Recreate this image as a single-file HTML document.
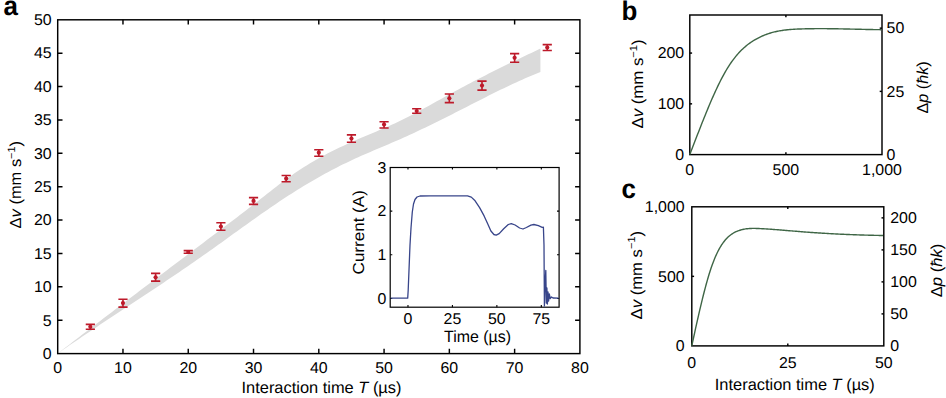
<!DOCTYPE html>
<html><head><meta charset="utf-8"><style>
html,body{margin:0;padding:0;background:#fff;}
svg{display:block;}
text{fill:#000;text-rendering:geometricPrecision;}
</style></head><body>
<svg width="946" height="398" viewBox="0 0 946 398" font-family='"Liberation Sans", sans-serif'>
<rect width="946" height="398" fill="#fff"/>
<path d="M57.7,353.5 L60.74,351.16 L63.77,348.83 L66.81,346.5 L69.84,344.17 L72.88,341.84 L75.92,339.51 L78.95,337.18 L81.99,334.85 L85.02,332.53 L88.06,330.2 L91.09,327.88 L94.13,325.56 L97.17,323.24 L100.2,320.92 L103.24,318.6 L106.27,316.28 L109.31,313.97 L112.35,311.65 L115.38,309.34 L118.42,307.03 L121.45,304.71 L124.49,302.4 L127.52,300.09 L130.56,297.79 L133.6,295.48 L136.63,293.17 L139.67,290.86 L142.7,288.56 L145.74,286.26 L148.78,283.95 L151.81,281.65 L154.85,279.35 L157.88,277.05 L160.92,274.75 L163.95,272.45 L166.99,270.15 L170.03,267.85 L173.06,265.56 L176.1,263.26 L179.13,260.97 L182.17,258.67 L185.21,256.38 L188.24,254.09 L191.28,251.8 L194.31,249.51 L197.35,247.22 L200.38,244.93 L203.42,242.64 L206.46,240.35 L209.49,238.06 L212.53,235.77 L215.56,233.48 L218.6,231.19 L221.64,228.9 L224.67,226.6 L227.71,224.3 L230.74,222 L233.78,219.69 L236.82,217.38 L239.85,215.06 L242.89,212.73 L245.92,210.39 L248.96,208.05 L251.99,205.69 L255.03,203.33 L258.07,200.96 L261.1,198.58 L264.14,196.18 L267.17,193.79 L270.21,191.4 L273.25,189.02 L276.28,186.66 L279.32,184.33 L282.35,182.03 L285.39,179.77 L288.42,177.56 L291.46,175.39 L294.5,173.29 L297.53,171.24 L300.57,169.24 L303.6,167.29 L306.64,165.4 L309.68,163.55 L312.71,161.74 L315.75,159.98 L318.78,158.27 L321.82,156.59 L324.85,154.96 L327.89,153.36 L330.93,151.8 L333.96,150.28 L337,148.78 L340.03,147.32 L343.07,145.89 L346.11,144.49 L349.14,143.11 L352.18,141.76 L355.21,140.43 L358.25,139.12 L361.28,137.82 L364.32,136.53 L367.36,135.25 L370.39,133.97 L373.43,132.69 L376.46,131.41 L379.5,130.12 L382.54,128.82 L385.57,127.5 L388.61,126.16 L391.64,124.8 L394.68,123.41 L397.72,121.99 L400.75,120.53 L403.79,119.04 L406.82,117.51 L409.86,115.96 L412.89,114.38 L415.93,112.77 L418.97,111.14 L422,109.49 L425.04,107.83 L428.07,106.15 L431.11,104.47 L434.15,102.78 L437.18,101.08 L440.22,99.39 L443.25,97.7 L446.29,96.01 L449.32,94.34 L452.36,92.67 L455.4,91.02 L458.43,89.38 L461.47,87.76 L464.5,86.14 L467.54,84.54 L470.58,82.94 L473.61,81.36 L476.65,79.79 L479.68,78.23 L482.72,76.67 L485.75,75.13 L488.79,73.6 L491.83,72.07 L494.86,70.55 L497.9,69.04 L500.93,67.54 L503.97,66.05 L507.01,64.56 L510.04,63.08 L513.08,61.61 L516.11,60.14 L519.15,58.68 L522.18,57.22 L525.22,55.77 L528.26,54.33 L531.29,52.89 L534.33,51.45 L537.36,50.01 L540.4,48.59 L540.4,71.92 L537.36,73.15 L534.33,74.4 L531.29,75.67 L528.26,76.97 L525.22,78.3 L522.18,79.64 L519.15,81.01 L516.11,82.4 L513.08,83.81 L510.04,85.23 L507.01,86.67 L503.97,88.13 L500.93,89.6 L497.9,91.08 L494.86,92.58 L491.83,94.09 L488.79,95.61 L485.75,97.13 L482.72,98.66 L479.68,100.2 L476.65,101.75 L473.61,103.29 L470.58,104.84 L467.54,106.39 L464.5,107.95 L461.47,109.5 L458.43,111.05 L455.4,112.59 L452.36,114.13 L449.32,115.67 L446.29,117.2 L443.25,118.72 L440.22,120.24 L437.18,121.74 L434.15,123.24 L431.11,124.73 L428.07,126.2 L425.04,127.67 L422,129.12 L418.97,130.56 L415.93,131.99 L412.89,133.4 L409.86,134.8 L406.82,136.19 L403.79,137.55 L400.75,138.91 L397.72,140.24 L394.68,141.56 L391.64,142.87 L388.61,144.17 L385.57,145.46 L382.54,146.75 L379.5,148.03 L376.46,149.32 L373.43,150.61 L370.39,151.91 L367.36,153.22 L364.32,154.54 L361.28,155.87 L358.25,157.23 L355.21,158.6 L352.18,160 L349.14,161.43 L346.11,162.88 L343.07,164.36 L340.03,165.87 L337,167.41 L333.96,168.97 L330.93,170.56 L327.89,172.18 L324.85,173.83 L321.82,175.5 L318.78,177.2 L315.75,178.92 L312.71,180.68 L309.68,182.45 L306.64,184.26 L303.6,186.09 L300.57,187.94 L297.53,189.82 L294.5,191.72 L291.46,193.65 L288.42,195.61 L285.39,197.58 L282.35,199.59 L279.32,201.61 L276.28,203.65 L273.25,205.71 L270.21,207.79 L267.17,209.88 L264.14,211.99 L261.1,214.11 L258.07,216.25 L255.03,218.39 L251.99,220.55 L248.96,222.71 L245.92,224.89 L242.89,227.07 L239.85,229.25 L236.82,231.44 L233.78,233.62 L230.74,235.81 L227.71,238 L224.67,240.19 L221.64,242.38 L218.6,244.56 L215.56,246.73 L212.53,248.9 L209.49,251.07 L206.46,253.22 L203.42,255.36 L200.38,257.49 L197.35,259.61 L194.31,261.72 L191.28,263.82 L188.24,265.92 L185.21,268 L182.17,270.08 L179.13,272.14 L176.1,274.21 L173.06,276.26 L170.03,278.31 L166.99,280.35 L163.95,282.38 L160.92,284.41 L157.88,286.44 L154.85,288.46 L151.81,290.48 L148.78,292.49 L145.74,294.5 L142.7,296.51 L139.67,298.52 L136.63,300.53 L133.6,302.53 L130.56,304.53 L127.52,306.54 L124.49,308.54 L121.45,310.54 L118.42,312.55 L115.38,314.55 L112.35,316.56 L109.31,318.57 L106.27,320.58 L103.24,322.6 L100.2,324.62 L97.17,326.64 L94.13,328.67 L91.09,330.7 L88.06,332.74 L85.02,334.78 L81.99,336.83 L78.95,338.89 L75.92,340.95 L72.88,343.02 L69.84,345.1 L66.81,347.19 L63.77,349.28 L60.74,351.39 L57.7,353.5 Z" stroke="none" stroke-width="0" fill="#dadada" />
<rect x="57.7" y="19.8" width="522.2" height="333.8" fill="none" stroke="#000" stroke-width="1.45"/>
<path d="M57.7,320.22 h4.8 M579.9,320.22 h-4.8" stroke="#000" stroke-width="1.45"/>
<path d="M57.7,286.84 h4.8 M579.9,286.84 h-4.8" stroke="#000" stroke-width="1.45"/>
<path d="M57.7,253.46 h4.8 M579.9,253.46 h-4.8" stroke="#000" stroke-width="1.45"/>
<path d="M57.7,220.08 h4.8 M579.9,220.08 h-4.8" stroke="#000" stroke-width="1.45"/>
<path d="M57.7,186.7 h4.8 M579.9,186.7 h-4.8" stroke="#000" stroke-width="1.45"/>
<path d="M57.7,153.32 h4.8 M579.9,153.32 h-4.8" stroke="#000" stroke-width="1.45"/>
<path d="M57.7,119.94 h4.8 M579.9,119.94 h-4.8" stroke="#000" stroke-width="1.45"/>
<path d="M57.7,86.56 h4.8 M579.9,86.56 h-4.8" stroke="#000" stroke-width="1.45"/>
<path d="M57.7,53.18 h4.8 M579.9,53.18 h-4.8" stroke="#000" stroke-width="1.45"/>
<path d="M122.97,353.6 v-4.8 M122.97,19.8 v4.8" stroke="#000" stroke-width="1.45"/>
<path d="M188.25,353.6 v-4.8 M188.25,19.8 v4.8" stroke="#000" stroke-width="1.45"/>
<path d="M253.52,353.6 v-4.8 M253.52,19.8 v4.8" stroke="#000" stroke-width="1.45"/>
<path d="M318.8,353.6 v-4.8 M318.8,19.8 v4.8" stroke="#000" stroke-width="1.45"/>
<path d="M384.07,353.6 v-4.8 M384.07,19.8 v4.8" stroke="#000" stroke-width="1.45"/>
<path d="M449.35,353.6 v-4.8 M449.35,19.8 v4.8" stroke="#000" stroke-width="1.45"/>
<path d="M514.62,353.6 v-4.8 M514.62,19.8 v4.8" stroke="#000" stroke-width="1.45"/>
<text transform="translate(51.6,358.9) scale(1.02,1)" text-anchor="end" font-size="15.6">0</text>
<text transform="translate(51.6,325.52) scale(1.02,1)" text-anchor="end" font-size="15.6">5</text>
<text transform="translate(51.6,292.14) scale(1.02,1)" text-anchor="end" font-size="15.6">10</text>
<text transform="translate(51.6,258.76) scale(1.02,1)" text-anchor="end" font-size="15.6">15</text>
<text transform="translate(51.6,225.38) scale(1.02,1)" text-anchor="end" font-size="15.6">20</text>
<text transform="translate(51.6,192) scale(1.02,1)" text-anchor="end" font-size="15.6">25</text>
<text transform="translate(51.6,158.62) scale(1.02,1)" text-anchor="end" font-size="15.6">30</text>
<text transform="translate(51.6,125.24) scale(1.02,1)" text-anchor="end" font-size="15.6">35</text>
<text transform="translate(51.6,91.86) scale(1.02,1)" text-anchor="end" font-size="15.6">40</text>
<text transform="translate(51.6,58.48) scale(1.02,1)" text-anchor="end" font-size="15.6">45</text>
<text transform="translate(51.6,25.1) scale(1.02,1)" text-anchor="end" font-size="15.6">50</text>
<text transform="translate(57.7,373.2) scale(1.02,1)" text-anchor="middle" font-size="15.6">0</text>
<text transform="translate(122.97,373.2) scale(1.02,1)" text-anchor="middle" font-size="15.6">10</text>
<text transform="translate(188.25,373.2) scale(1.02,1)" text-anchor="middle" font-size="15.6">20</text>
<text transform="translate(253.52,373.2) scale(1.02,1)" text-anchor="middle" font-size="15.6">30</text>
<text transform="translate(318.8,373.2) scale(1.02,1)" text-anchor="middle" font-size="15.6">40</text>
<text transform="translate(384.07,373.2) scale(1.02,1)" text-anchor="middle" font-size="15.6">50</text>
<text transform="translate(449.35,373.2) scale(1.02,1)" text-anchor="middle" font-size="15.6">60</text>
<text transform="translate(514.62,373.2) scale(1.02,1)" text-anchor="middle" font-size="15.6">70</text>
<text transform="translate(579.9,373.2) scale(1.02,1)" text-anchor="middle" font-size="15.6">80</text>
<text x="241.5" y="392.8" font-size="16.3" textLength="160" lengthAdjust="spacingAndGlyphs">Interaction time <tspan font-style="italic">T</tspan> (µs)</text>
<text transform="translate(21.2,184.7) rotate(-90)" text-anchor="middle" font-size="15.9" textLength="87.4" lengthAdjust="spacingAndGlyphs">Δ<tspan font-style="italic">v</tspan> (mm s<tspan dy="-6.2" font-size="10.5">−1</tspan><tspan dy="6.2">)</tspan></text>
<text transform="translate(3.5,15) scale(0.96,1)" text-anchor="start" font-size="27" font-weight="bold">a</text>
<path d="M85.74,324.4 h9.2 M85.74,329.2 h9.2 M90.34,324.4 V329.2" stroke="#bd1a2a" stroke-width="1.6"/>
<circle cx="90.34" cy="326.8" r="2.1" fill="#bd1a2a"/>
<path d="M118.38,299.3 h9.2 M118.38,307.1 h9.2 M122.97,299.3 V307.1" stroke="#bd1a2a" stroke-width="1.6"/>
<circle cx="122.97" cy="303.1" r="2.1" fill="#bd1a2a"/>
<path d="M151.01,273.4 h9.2 M151.01,281.1 h9.2 M155.61,273.4 V281.1" stroke="#bd1a2a" stroke-width="1.6"/>
<circle cx="155.61" cy="277.3" r="2.1" fill="#bd1a2a"/>
<path d="M183.65,250.6 h9.2 M183.65,253.3 h9.2 M188.25,250.6 V253.3" stroke="#bd1a2a" stroke-width="1.6"/>
<circle cx="188.25" cy="252" r="2.1" fill="#bd1a2a"/>
<path d="M216.29,222.8 h9.2 M216.29,230.3 h9.2 M220.89,222.8 V230.3" stroke="#bd1a2a" stroke-width="1.6"/>
<circle cx="220.89" cy="226.5" r="2.1" fill="#bd1a2a"/>
<path d="M248.92,197.6 h9.2 M248.92,204.4 h9.2 M253.52,197.6 V204.4" stroke="#bd1a2a" stroke-width="1.6"/>
<circle cx="253.52" cy="200.9" r="2.1" fill="#bd1a2a"/>
<path d="M281.56,175.5 h9.2 M281.56,181.7 h9.2 M286.16,175.5 V181.7" stroke="#bd1a2a" stroke-width="1.6"/>
<circle cx="286.16" cy="178.6" r="2.1" fill="#bd1a2a"/>
<path d="M314.2,149.7 h9.2 M314.2,156.2 h9.2 M318.8,149.7 V156.2" stroke="#bd1a2a" stroke-width="1.6"/>
<circle cx="318.8" cy="152.7" r="2.1" fill="#bd1a2a"/>
<path d="M346.84,134.9 h9.2 M346.84,142.2 h9.2 M351.44,134.9 V142.2" stroke="#bd1a2a" stroke-width="1.6"/>
<circle cx="351.44" cy="138.5" r="2.1" fill="#bd1a2a"/>
<path d="M379.47,121.7 h9.2 M379.47,128 h9.2 M384.07,121.7 V128" stroke="#bd1a2a" stroke-width="1.6"/>
<circle cx="384.07" cy="124.6" r="2.1" fill="#bd1a2a"/>
<path d="M412.11,108.7 h9.2 M412.11,113.2 h9.2 M416.71,108.7 V113.2" stroke="#bd1a2a" stroke-width="1.6"/>
<circle cx="416.71" cy="111" r="2.1" fill="#bd1a2a"/>
<path d="M444.75,94 h9.2 M444.75,102.6 h9.2 M449.35,94 V102.6" stroke="#bd1a2a" stroke-width="1.6"/>
<circle cx="449.35" cy="98.3" r="2.1" fill="#bd1a2a"/>
<path d="M477.39,81.1 h9.2 M477.39,90.1 h9.2 M481.99,81.1 V90.1" stroke="#bd1a2a" stroke-width="1.6"/>
<circle cx="481.99" cy="85.6" r="2.1" fill="#bd1a2a"/>
<path d="M510.02,53.6 h9.2 M510.02,62.3 h9.2 M514.62,53.6 V62.3" stroke="#bd1a2a" stroke-width="1.6"/>
<circle cx="514.62" cy="57.8" r="2.1" fill="#bd1a2a"/>
<path d="M542.66,44.6 h9.2 M542.66,50.5 h9.2 M547.26,44.6 V50.5" stroke="#bd1a2a" stroke-width="1.6"/>
<circle cx="547.26" cy="47.5" r="2.1" fill="#bd1a2a"/>
<rect x="390.2" y="167.5" width="168.9" height="139.7" fill="#fff" stroke="#000" stroke-width="1.2"/>
<path d="M390.2,298.47 h2.1 M559.1,298.47 h-2.1" stroke="#000" stroke-width="1.1"/>
<text transform="translate(386.4,303.67) scale(1.02,1)" text-anchor="end" font-size="15.6">0</text>
<path d="M390.2,254.81 h2.1 M559.1,254.81 h-2.1" stroke="#000" stroke-width="1.1"/>
<text transform="translate(386.4,260.01) scale(1.02,1)" text-anchor="end" font-size="15.6">1</text>
<path d="M390.2,211.16 h2.1 M559.1,211.16 h-2.1" stroke="#000" stroke-width="1.1"/>
<text transform="translate(386.4,216.36) scale(1.02,1)" text-anchor="end" font-size="15.6">2</text>
<path d="M390.2,167.5 h2.1 M559.1,167.5 h-2.1" stroke="#000" stroke-width="1.1"/>
<text transform="translate(386.4,172.7) scale(1.02,1)" text-anchor="end" font-size="15.6">3</text>
<path d="M407.98,307.2 v-2.1 M407.98,167.5 v2.1" stroke="#000" stroke-width="1.1"/>
<text transform="translate(407.98,324.3) scale(1.02,1)" text-anchor="middle" font-size="15.6">0</text>
<path d="M452.43,307.2 v-2.1 M452.43,167.5 v2.1" stroke="#000" stroke-width="1.1"/>
<text transform="translate(452.43,324.3) scale(1.02,1)" text-anchor="middle" font-size="15.6">25</text>
<path d="M496.87,307.2 v-2.1 M496.87,167.5 v2.1" stroke="#000" stroke-width="1.1"/>
<text transform="translate(496.87,324.3) scale(1.02,1)" text-anchor="middle" font-size="15.6">50</text>
<path d="M541.32,307.2 v-2.1 M541.32,167.5 v2.1" stroke="#000" stroke-width="1.1"/>
<text transform="translate(541.32,324.3) scale(1.02,1)" text-anchor="middle" font-size="15.6">75</text>
<text x="444" y="341.9" font-size="16.2" textLength="67" lengthAdjust="spacingAndGlyphs">Time (µs)</text>
<text transform="translate(364.2,232.3) rotate(-90)" text-anchor="middle" font-size="15.9" textLength="84.2" lengthAdjust="spacingAndGlyphs">Current (A)</text>
<path d="M390.8,298.1 L407.7,298.1 L408.2,290 L409,270 L410,245 L411,228 L412.3,212 L413.5,204 L415,199.5 L417,197 L420,196 L430,195.8 L460,195.8 L467.5,195.9 L471.3,197.1 L475.1,200.8 L479.6,207.6 L484.1,215.9 L487.9,224.2 L490.9,231 L493.9,234.5 L496.2,235.1 L499.2,233.6 L503.7,228.7 L508.3,224.5 L511.3,223.6 L515.1,225 L519.6,228 L523,229 L526.4,227.5 L530.9,225.1 L533.9,224.5 L538.4,225.7 L542.2,227.3 L543.4,227.2 L544,245 L544.4,306 L545,285 L545.8,270.5 L546.3,303 L546.9,288 L547.4,304 L548,292 L548.6,301 L549.3,294 L550.2,298.5 L551.5,297 L553,298 L558.6,298.1" stroke="#38458a" stroke-width="1.3" fill="none" stroke-linejoin="round"/>
<rect x="689.8" y="15.0" width="192.2" height="139.6" fill="none" stroke="#000" stroke-width="1.45"/>
<path d="M689.8,103.84 h2.3" stroke="#000" stroke-width="1.45"/>
<path d="M689.8,53.07 h2.3" stroke="#000" stroke-width="1.45"/>
<path d="M882.0,91.38 h-2.3" stroke="#000" stroke-width="1.45"/>
<path d="M882.0,28.15 h-2.3" stroke="#000" stroke-width="1.45"/>
<path d="M785.9,154.6 v-2.3 M785.9,15.0 v2.3" stroke="#000" stroke-width="1.45"/>
<text transform="translate(684.2,159.9) scale(1.02,1)" text-anchor="end" font-size="15.6">0</text>
<text transform="translate(684.2,109.14) scale(1.02,1)" text-anchor="end" font-size="15.6">100</text>
<text transform="translate(684.2,58.37) scale(1.02,1)" text-anchor="end" font-size="15.6">200</text>
<text transform="translate(886.6,159.9) scale(1.02,1)" text-anchor="start" font-size="15.6">0</text>
<text transform="translate(886.6,96.68) scale(1.02,1)" text-anchor="start" font-size="15.6">25</text>
<text transform="translate(886.6,33.45) scale(1.02,1)" text-anchor="start" font-size="15.6">50</text>
<text transform="translate(689.8,174.8) scale(1.02,1)" text-anchor="middle" font-size="15.6">0</text>
<text transform="translate(785.9,174.8) scale(1.02,1)" text-anchor="middle" font-size="15.6">500</text>
<text transform="translate(882,174.8) scale(1.02,1)" text-anchor="middle" font-size="15.6">1,000</text>
<text transform="translate(642.8,84) rotate(-90)" text-anchor="middle" font-size="15.9" textLength="89.2" lengthAdjust="spacingAndGlyphs">Δ<tspan font-style="italic">v</tspan> (mm s<tspan dy="-6.2" font-size="10.5">−1</tspan><tspan dy="6.2">)</tspan></text>
<text transform="translate(927.7,87.4) rotate(-90)" text-anchor="middle" font-size="15.9" textLength="52.3" lengthAdjust="spacingAndGlyphs">Δ<tspan font-style="italic">p</tspan> (<tspan font-style="italic">ħk</tspan>)</text>
<text transform="translate(621.4,19.8) scale(0.96,1)" text-anchor="start" font-size="27" font-weight="bold">b</text>
<path d="M689.8,154.6 L690.76,152.1 L691.72,149.6 L692.69,147.09 L693.65,144.59 L694.61,142.09 L695.57,139.59 L696.54,137.1 L697.5,134.62 L698.46,132.14 L699.42,129.67 L700.39,127.22 L701.35,124.77 L702.31,122.34 L703.27,119.92 L704.23,117.53 L705.2,115.14 L706.16,112.78 L707.12,110.44 L708.08,108.12 L709.05,105.82 L710.01,103.55 L710.97,101.3 L711.93,99.08 L712.9,96.89 L713.86,94.73 L714.82,92.6 L715.78,90.5 L716.74,88.44 L717.71,86.41 L718.67,84.42 L719.63,82.47 L720.59,80.56 L721.56,78.69 L722.52,76.86 L723.48,75.07 L724.44,73.33 L725.41,71.64 L726.37,69.99 L727.33,68.4 L728.29,66.85 L729.25,65.35 L730.22,63.9 L731.18,62.5 L732.14,61.14 L733.1,59.83 L734.07,58.56 L735.03,57.33 L735.99,56.14 L736.95,55 L737.92,53.89 L738.88,52.83 L739.84,51.8 L740.8,50.8 L741.76,49.85 L742.73,48.92 L743.69,48.03 L744.65,47.18 L745.61,46.35 L746.58,45.56 L747.54,44.79 L748.5,44.05 L749.46,43.34 L750.43,42.66 L751.39,42 L752.35,41.36 L753.31,40.75 L754.27,40.16 L755.24,39.59 L756.2,39.04 L757.16,38.52 L758.12,38.01 L759.09,37.52 L760.05,37.04 L761.01,36.59 L761.97,36.15 L762.94,35.74 L763.9,35.33 L764.86,34.95 L765.82,34.58 L766.78,34.23 L767.75,33.89 L768.71,33.57 L769.67,33.26 L770.63,32.97 L771.6,32.69 L772.56,32.42 L773.52,32.17 L774.48,31.93 L775.45,31.71 L776.41,31.49 L777.37,31.29 L778.33,31.1 L779.29,30.92 L780.26,30.75 L781.22,30.59 L782.18,30.44 L783.14,30.3 L784.11,30.16 L785.07,30.04 L786.03,29.93 L786.99,29.82 L787.96,29.72 L788.92,29.63 L789.88,29.55 L790.84,29.47 L791.81,29.4 L792.77,29.33 L793.73,29.27 L794.69,29.21 L795.65,29.16 L796.62,29.12 L797.58,29.07 L798.54,29.03 L799.5,29 L800.47,28.96 L801.43,28.93 L802.39,28.9 L803.35,28.87 L804.32,28.85 L805.28,28.82 L806.24,28.8 L807.2,28.78 L808.16,28.76 L809.13,28.74 L810.09,28.73 L811.05,28.71 L812.01,28.7 L812.98,28.69 L813.94,28.68 L814.9,28.67 L815.86,28.67 L816.83,28.66 L817.79,28.66 L818.75,28.65 L819.71,28.65 L820.67,28.65 L821.64,28.65 L822.6,28.65 L823.56,28.66 L824.52,28.66 L825.49,28.67 L826.45,28.67 L827.41,28.68 L828.37,28.69 L829.34,28.7 L830.3,28.71 L831.26,28.72 L832.22,28.73 L833.18,28.75 L834.15,28.76 L835.11,28.77 L836.07,28.79 L837.03,28.8 L838,28.82 L838.96,28.84 L839.92,28.86 L840.88,28.87 L841.85,28.89 L842.81,28.91 L843.77,28.93 L844.73,28.95 L845.69,28.97 L846.66,28.99 L847.62,29.01 L848.58,29.04 L849.54,29.06 L850.51,29.08 L851.47,29.1 L852.43,29.12 L853.39,29.15 L854.36,29.17 L855.32,29.19 L856.28,29.21 L857.24,29.24 L858.2,29.26 L859.17,29.28 L860.13,29.3 L861.09,29.32 L862.05,29.35 L863.02,29.37 L863.98,29.39 L864.94,29.41 L865.9,29.43 L866.87,29.45 L867.83,29.47 L868.79,29.49 L869.75,29.51 L870.71,29.53 L871.68,29.55 L872.64,29.57 L873.6,29.58 L874.56,29.6 L875.53,29.62 L876.49,29.63 L877.45,29.65 L878.41,29.66 L879.38,29.67 L880.34,29.69 L881.3,29.7" stroke="#3f6646" stroke-width="1.4" fill="none" stroke-linejoin="round"/>
<rect x="691.8" y="206.8" width="192" height="139.1" fill="none" stroke="#000" stroke-width="1.45"/>
<path d="M691.8,276.35 h2.3" stroke="#000" stroke-width="1.45"/>
<path d="M883.8,313.89 h-2.3" stroke="#000" stroke-width="1.45"/>
<path d="M883.8,281.89 h-2.3" stroke="#000" stroke-width="1.45"/>
<path d="M883.8,249.88 h-2.3" stroke="#000" stroke-width="1.45"/>
<path d="M883.8,217.87 h-2.3" stroke="#000" stroke-width="1.45"/>
<path d="M787.8,345.9 v-2.3 M787.8,206.8 v2.3" stroke="#000" stroke-width="1.45"/>
<text transform="translate(684.6,351.2) scale(1.02,1)" text-anchor="end" font-size="15.6">0</text>
<text transform="translate(684.6,281.65) scale(1.02,1)" text-anchor="end" font-size="15.6">500</text>
<text transform="translate(684.6,212.1) scale(1.02,1)" text-anchor="end" font-size="15.6">1,000</text>
<text transform="translate(890.2,350.7) scale(1.02,1)" text-anchor="start" font-size="15.6">0</text>
<text transform="translate(890.2,318.69) scale(1.02,1)" text-anchor="start" font-size="15.6">50</text>
<text transform="translate(890.2,286.69) scale(1.02,1)" text-anchor="start" font-size="15.6">100</text>
<text transform="translate(890.2,254.68) scale(1.02,1)" text-anchor="start" font-size="15.6">150</text>
<text transform="translate(890.2,222.67) scale(1.02,1)" text-anchor="start" font-size="15.6">200</text>
<text transform="translate(691.8,367.6) scale(1.02,1)" text-anchor="middle" font-size="15.6">0</text>
<text transform="translate(787.8,367.6) scale(1.02,1)" text-anchor="middle" font-size="15.6">25</text>
<text transform="translate(883.8,367.6) scale(1.02,1)" text-anchor="middle" font-size="15.6">50</text>
<text x="714.8" y="389.8" font-size="16.3" textLength="160" lengthAdjust="spacingAndGlyphs">Interaction time <tspan font-style="italic">T</tspan> (µs)</text>
<text transform="translate(641.5,275.2) rotate(-90)" text-anchor="middle" font-size="15.9" textLength="88.6" lengthAdjust="spacingAndGlyphs">Δ<tspan font-style="italic">v</tspan> (mm s<tspan dy="-6.2" font-size="10.5">−1</tspan><tspan dy="6.2">)</tspan></text>
<text transform="translate(941.8,270.5) rotate(-90)" text-anchor="middle" font-size="15.9" textLength="53.5" lengthAdjust="spacingAndGlyphs">Δ<tspan font-style="italic">p</tspan> (<tspan font-style="italic">ħk</tspan>)</text>
<text transform="translate(621.4,197.6) scale(0.96,1)" text-anchor="start" font-size="27" font-weight="bold">c</text>
<path d="M691.8,345.9 L692.76,341.44 L693.72,337 L694.68,332.59 L695.64,328.21 L696.6,323.88 L697.56,319.59 L698.53,315.35 L699.49,311.18 L700.45,307.08 L701.41,303.05 L702.37,299.1 L703.33,295.24 L704.29,291.48 L705.25,287.82 L706.21,284.26 L707.17,280.82 L708.13,277.5 L709.09,274.31 L710.06,271.25 L711.02,268.33 L711.98,265.55 L712.94,262.92 L713.9,260.43 L714.86,258.07 L715.82,255.84 L716.78,253.74 L717.74,251.76 L718.7,249.9 L719.66,248.15 L720.62,246.51 L721.58,244.98 L722.55,243.54 L723.51,242.21 L724.47,240.97 L725.43,239.81 L726.39,238.74 L727.35,237.75 L728.31,236.84 L729.27,235.99 L730.23,235.22 L731.19,234.5 L732.15,233.85 L733.11,233.25 L734.08,232.7 L735.04,232.2 L736,231.73 L736.96,231.31 L737.92,230.92 L738.88,230.57 L739.84,230.25 L740.8,229.96 L741.76,229.69 L742.72,229.46 L743.68,229.26 L744.64,229.08 L745.61,228.93 L746.57,228.8 L747.53,228.69 L748.49,228.6 L749.45,228.53 L750.41,228.47 L751.37,228.44 L752.33,228.41 L753.29,228.41 L754.25,228.41 L755.21,228.42 L756.17,228.45 L757.13,228.48 L758.1,228.51 L759.06,228.56 L760.02,228.6 L760.98,228.65 L761.94,228.7 L762.9,228.75 L763.86,228.81 L764.82,228.86 L765.78,228.92 L766.74,228.98 L767.7,229.04 L768.66,229.1 L769.63,229.17 L770.59,229.23 L771.55,229.3 L772.51,229.37 L773.47,229.44 L774.43,229.51 L775.39,229.58 L776.35,229.66 L777.31,229.73 L778.27,229.81 L779.23,229.88 L780.19,229.96 L781.15,230.04 L782.12,230.12 L783.08,230.2 L784.04,230.28 L785,230.36 L785.96,230.44 L786.92,230.52 L787.88,230.6 L788.84,230.68 L789.8,230.76 L790.76,230.84 L791.72,230.92 L792.68,231 L793.65,231.08 L794.61,231.16 L795.57,231.24 L796.53,231.32 L797.49,231.4 L798.45,231.48 L799.41,231.56 L800.37,231.63 L801.33,231.71 L802.29,231.78 L803.25,231.86 L804.21,231.93 L805.17,232.01 L806.14,232.08 L807.1,232.15 L808.06,232.22 L809.02,232.29 L809.98,232.36 L810.94,232.43 L811.9,232.5 L812.86,232.56 L813.82,232.63 L814.78,232.69 L815.74,232.76 L816.7,232.82 L817.67,232.89 L818.63,232.95 L819.59,233.01 L820.55,233.07 L821.51,233.13 L822.47,233.19 L823.43,233.25 L824.39,233.31 L825.35,233.36 L826.31,233.42 L827.27,233.48 L828.23,233.53 L829.19,233.59 L830.16,233.64 L831.12,233.69 L832.08,233.75 L833.04,233.8 L834,233.85 L834.96,233.9 L835.92,233.95 L836.88,233.99 L837.84,234.04 L838.8,234.09 L839.76,234.14 L840.72,234.18 L841.69,234.23 L842.65,234.27 L843.61,234.31 L844.57,234.36 L845.53,234.4 L846.49,234.44 L847.45,234.48 L848.41,234.52 L849.37,234.56 L850.33,234.6 L851.29,234.64 L852.25,234.67 L853.22,234.71 L854.18,234.75 L855.14,234.78 L856.1,234.82 L857.06,234.85 L858.02,234.88 L858.98,234.91 L859.94,234.95 L860.9,234.98 L861.86,235.01 L862.82,235.04 L863.78,235.07 L864.74,235.09 L865.71,235.12 L866.67,235.15 L867.63,235.17 L868.59,235.2 L869.55,235.22 L870.51,235.25 L871.47,235.27 L872.43,235.29 L873.39,235.32 L874.35,235.34 L875.31,235.36 L876.27,235.38 L877.24,235.4 L878.2,235.42 L879.16,235.43 L880.12,235.45 L881.08,235.47 L882.04,235.48 L883,235.5" stroke="#3f6646" stroke-width="1.4" fill="none" stroke-linejoin="round"/>
</svg>
</body></html>
